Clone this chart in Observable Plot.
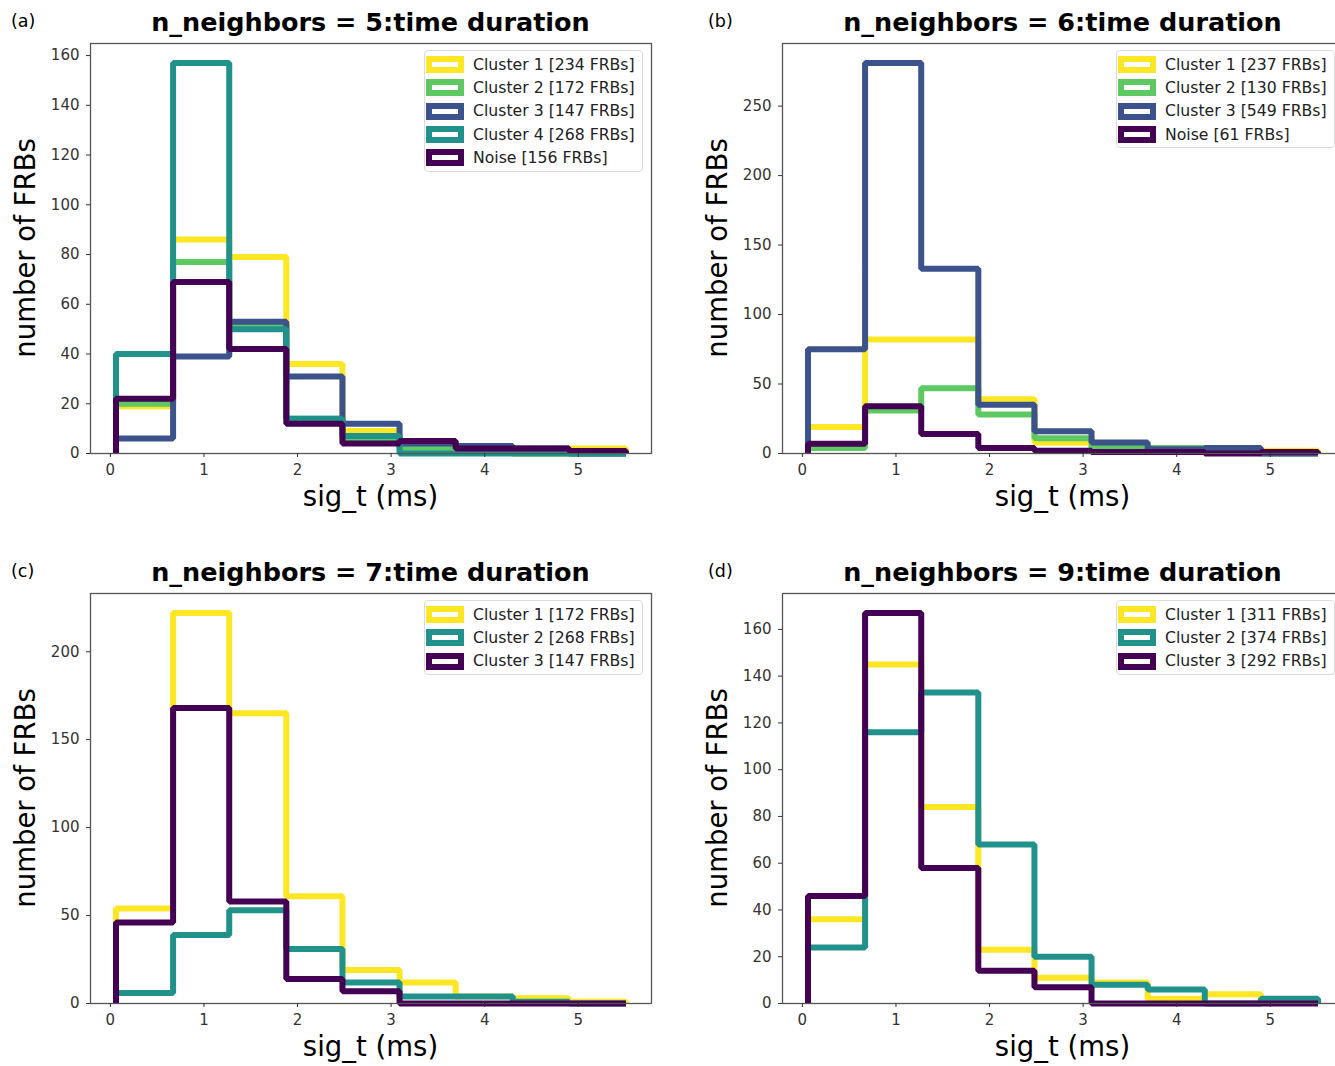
<!DOCTYPE html>
<html><head><meta charset="utf-8">
<script src="https://cdn.jsdelivr.net/npm/d3@7"></script>
<script src="https://cdn.jsdelivr.net/npm/@observablehq/plot@0.6"></script>
<style>
html,body{margin:0;padding:0;background:#fff;}
body{width:1335px;height:1066px;overflow:hidden;position:relative;font-family:"DejaVu Sans",sans-serif;color:#000;}
.abs{position:absolute;white-space:nowrap;line-height:1;}
.title{font-weight:bold;font-size:25.5px;transform:translate(-50%,-50%);}
.xlab{font-size:27.5px;transform:translate(-50%,-50%);}
.ylab{font-size:27.5px;transform:translate(-50%,-50%) rotate(-90deg);}
.letter{font-size:17.5px;transform:translateY(-50%);}
.legend{position:absolute;border:1px solid #dcdcdc;border-radius:4px;background:rgba(255,255,255,0.85);box-sizing:border-box;}
.row{position:absolute;left:0;height:23.3px;width:100%;}
.handle{position:absolute;left:1px;top:3px;width:26px;height:5px;border:6px solid;}
.ltext{position:absolute;left:48px;top:50%;transform:translateY(-50%);font-size:15.7px;color:#222;white-space:nowrap;line-height:1;}
.panel{position:absolute;width:661px;height:480px;overflow:visible;}
.panel svg{max-width:none !important;}
</style></head><body>
<script>
// ---- data ----
const binEdges = [0.06, 0.67, 1.27, 1.88, 2.48, 3.09, 3.69, 4.30, 4.90, 5.51];
const xTicks = [0, 1, 2, 3, 4, 5];

const colYellow = "#fde725", colGreen = "#5ec962", colBlue = "#3b528b", colTeal = "#21918c", colPurple = "#440154";

// (a) n_neighbors = 5
const titleA = "n_neighbors = 5:time duration";
const namesA = ["Cluster 1 [234 FRBs]", "Cluster 2 [172 FRBs]", "Cluster 3 [147 FRBs]", "Cluster 4 [268 FRBs]", "Noise [156 FRBs]"];
const a_c1 = [19, 86, 79, 36, 9, 2, 1, 0, 2];
const a_c2 = [20, 77, 52, 14, 6, 2, 1, 0, 0];
const a_c3 = [6, 39, 53, 31, 12, 4, 3, 2, 0];
const a_c4 = [40, 157, 50, 14, 7, 0, 0, 0, 0];
const a_noise = [22, 69, 42, 12, 4, 5, 2, 2, 1];
const yTicksA = [0, 20, 40, 60, 80, 100, 120, 140, 160];

// (b) n_neighbors = 6
const titleB = "n_neighbors = 6:time duration";
const namesB = ["Cluster 1 [237 FRBs]", "Cluster 2 [130 FRBs]", "Cluster 3 [549 FRBs]", "Noise [61 FRBs]"];
const b_c1 = [19, 82, 82, 39, 8, 3, 1, 1, 2];
const b_c2 = [4, 31, 47, 28, 11, 4, 4, 1, 0];
const b_c3 = [75, 281, 133, 35, 16, 8, 3, 4, 0];
const b_noise = [7, 34, 14, 4, 2, 1, 1, 0, 1];
const yTicksB = [0, 50, 100, 150, 200, 250];

// (c) n_neighbors = 7
const titleC = "n_neighbors = 7:time duration";
const namesC = ["Cluster 1 [172 FRBs]", "Cluster 2 [268 FRBs]", "Cluster 3 [147 FRBs]"];
const c_c1 = [54, 222, 165, 61, 19, 12, 4, 3, 1];
const c_c2 = [6, 39, 53, 31, 12, 4, 4, 1, 0];
const c_c3 = [46, 168, 58, 14, 7, 0, 0, 0, 0];
const yTicksC = [0, 50, 100, 150, 200];

// (d) n_neighbors = 9
const titleD = "n_neighbors = 9:time duration";
const namesD = ["Cluster 1 [311 FRBs]", "Cluster 2 [374 FRBs]", "Cluster 3 [292 FRBs]"];
const d_c1 = [36, 145, 84, 23, 11, 9, 2, 4, 1];
const d_c2 = [24, 116, 133, 68, 20, 8, 6, 0, 2];
const d_c3 = [46, 167, 58, 14, 7, 0, 0, 0, 0];
const yTicksD = [0, 20, 40, 60, 80, 100, 120, 140, 160];

// ---- drawing ----
function stepPoints(counts) {
  const pts = [{x: binEdges[0], y: 0}];
  counts.forEach((c, i) => {
    pts.push({x: binEdges[i], y: c});
    pts.push({x: binEdges[i + 1], y: c});
  });
  pts.push({x: binEdges[binEdges.length - 1], y: 0});
  return pts;
}

function el(cls, text, left, top) {
  const d = document.createElement("div");
  d.className = "abs " + cls;
  d.textContent = text;
  d.style.left = left + "px";
  d.style.top = top + "px";
  document.body.appendChild(d);
  return d;
}

function panel(cfg) {
  const {ox, oy, letter, letterX, title, names, series, colors, yTicks} = cfg;
  const ymax = d3.max(series.flat()) * 1.05;
  const xmin = binEdges[0], xmaxE = binEdges[binEdges.length - 1];
  const pad = (xmaxE - xmin) * 0.05;
  const marks = [];
  series.forEach((s, k) => {
    marks.push(Plot.line(stepPoints(s), {x: "x", y: "y", stroke: colors[k], strokeWidth: 6, strokeLinejoin: "miter", strokeLinecap: "butt"}));
  });
  const plot = Plot.plot({
    width: 661, height: 480,
    marginLeft: 90, marginRight: 10, marginTop: 43, marginBottom: 27,
    style: {fontFamily: "DejaVu Sans", fontSize: "15px", background: "transparent", maxWidth: "none", overflow: "visible"},
    x: {domain: [xmin - pad, xmaxE + pad]},
    y: {domain: [0, ymax]},
    marks: [
      ...marks,
      Plot.frame({stroke: "#555", strokeWidth: 1.3}),
      Plot.axisX({ticks: xTicks, tickSize: 4, tickPadding: 7, fontSize: 15, color: "#333", label: null, tickFormat: d3.format("d")}),
      Plot.axisY({ticks: yTicks, tickSize: 4, tickPadding: 7, fontSize: 15, color: "#333", label: null, tickFormat: d3.format("d")})
    ]
  });
  plot.style.maxWidth = "none";
  plot.setAttribute("width", 661);
  const wrap = document.createElement("div");
  wrap.className = "panel";
  wrap.style.left = ox + "px";
  wrap.style.top = oy + "px";
  wrap.appendChild(plot);
  document.body.appendChild(wrap);

  el("letter", letter, ox + letterX, oy + 22);
  el("title", title, ox + 370.5, oy + 23);
  el("xlab", "sig_t (ms)", ox + 370.5, oy + 497);
  el("ylab", "number of FRBs", ox + 25.5, oy + 248);

  const lg = document.createElement("div");
  lg.className = "legend";
  lg.style.left = (ox + 424) + "px";
  lg.style.top = (oy + 50) + "px";
  lg.style.width = "219px";
  lg.style.height = (names.length * 23.3 + 5) + "px";
  names.forEach((n, k) => {
    const r = document.createElement("div");
    r.className = "row";
    r.style.top = (2 + k * 23.3) + "px";
    const h = document.createElement("span");
    h.className = "handle";
    h.style.borderColor = colors[k];
    const t = document.createElement("span");
    t.className = "ltext";
    t.textContent = n;
    r.appendChild(h); r.appendChild(t);
    lg.appendChild(r);
  });
  document.body.appendChild(lg);
}

panel({ox: 0, oy: 0, letter: "(a)", letterX: 11, title: titleA, names: namesA,
  series: [a_c1, a_c2, a_c3, a_c4, a_noise], colors: [colYellow, colGreen, colBlue, colTeal, colPurple], yTicks: yTicksA});
panel({ox: 692, oy: 0, letter: "(b)", letterX: 16, title: titleB, names: namesB,
  series: [b_c1, b_c2, b_c3, b_noise], colors: [colYellow, colGreen, colBlue, colPurple], yTicks: yTicksB});
panel({ox: 0, oy: 550, letter: "(c)", letterX: 11, title: titleC, names: namesC,
  series: [c_c1, c_c2, c_c3], colors: [colYellow, colTeal, colPurple], yTicks: yTicksC});
panel({ox: 692, oy: 550, letter: "(d)", letterX: 16, title: titleD, names: namesD,
  series: [d_c1, d_c2, d_c3], colors: [colYellow, colTeal, colPurple], yTicks: yTicksD});
</script>
</body></html>
